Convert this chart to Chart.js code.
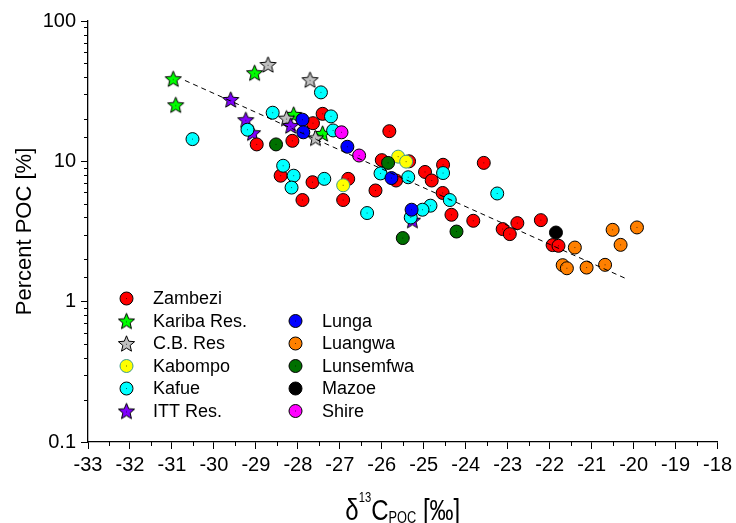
<!DOCTYPE html>
<html>
<head>
<meta charset="utf-8">
<script src="https://cdn.jsdelivr.net/npm/chart.js@4/dist/chart.umd.min.js"></script>
<style>
  body { margin: 0; background: #fff; }
  #wrap { width: 736px; height: 523px; }
</style>
</head>
<body>
<div id="wrap"><canvas id="poc" width="736" height="523"></canvas></div>
<script>
// d13C of POC (permil) against percent POC, by river / reservoir
const zambezi = [
  [-28.98, 13.2], [-28.13, 14.0], [-27.64, 18.7], [-27.41, 21.8], [-28.41, 7.9],
  [-27.65, 7.1], [-26.92, 5.3], [-27.89, 5.3], [-25.82, 16.4], [-26.00, 10.2],
  [-25.35, 10.0], [-25.66, 7.3], [-26.80, 7.5], [-26.15, 6.2], [-24.97, 8.4],
  [-24.81, 7.3], [-24.54, 9.45], [-24.55, 5.95], [-24.34, 4.16], [-23.82, 3.77],
  [-23.57, 9.75], [-23.12, 3.29], [-22.95, 3.03], [-22.77, 3.63], [-22.21, 3.81],
  [-21.93, 2.53], [-21.79, 2.50]
];
const kariba = [[-30.97, 38.8], [-30.91, 25.3], [-29.03, 42.8], [-28.10, 21.6], [-27.41, 15.8]];
const cbRes = [[-28.71, 49.0], [-27.71, 38.2], [-28.27, 20.3], [-27.58, 14.7]];
const kabompo = [[-26.92, 6.75], [-25.61, 10.8], [-25.42, 9.95]];
const kafue = [
  [-27.45, 31.0], [-29.20, 16.8], [-30.51, 14.4], [-28.60, 22.2], [-27.21, 20.9],
  [-27.16, 16.6], [-28.35, 9.3], [-28.10, 7.9], [-28.15, 6.5], [-27.37, 7.5],
  [-26.03, 8.2], [-25.37, 7.7], [-26.35, 4.28], [-24.54, 8.25], [-24.38, 5.3],
  [-24.84, 4.83], [-25.03, 4.52], [-25.31, 3.98], [-23.25, 5.9]
];
const ittRes = [[-29.60, 27.6], [-29.24, 19.8], [-29.08, 16.0], [-28.17, 18.0], [-25.27, 3.81]];
const lunga = [[-27.89, 19.8], [-27.87, 16.1], [-26.82, 12.7], [-25.77, 7.6], [-25.29, 4.52]];
const luangwa = [
  [-21.40, 2.43], [-21.69, 1.82], [-21.59, 1.73], [-21.12, 1.75],
  [-20.68, 1.83], [-20.50, 3.25], [-20.31, 2.54], [-19.92, 3.38]
];
const lunsemfwa = [[-28.52, 13.2], [-25.85, 9.75], [-25.50, 2.84], [-24.22, 3.16]];
const mazoe = [[-21.85, 3.11]];
const shire = [[-26.96, 16.1], [-26.54, 11.0]];

// dashed regression line (straight on the log axis)
const trendX = [-30.69, -20.16];
const trendY = [37.7, 1.45];

const xTickValues = [-33, -32, -31, -30, -29, -28, -27, -26, -25, -24, -23, -22, -21, -20, -19, -18];
const xTickLabels = ['-33', '-32', '-31', '-30', '-29', '-28', '-27', '-26', '-25', '-24', '-23', '-22', '-21', '-20', '-19', '-18'];
const yTickValues = [0.1, 1, 10, 100];
const yTickLabels = ['0.1', '1', '10', '100'];

const FONT = '"Liberation Sans", Arial, Helvetica, sans-serif';

function starImage(fill) {
  const s = 19;
  const c = document.createElement('canvas');
  c.width = s; c.height = s;
  const g = c.getContext('2d');
  const R = 8.5, r = 3.8, cx = s / 2, cy = s / 2 + 0.8;
  g.beginPath();
  for (let i = 0; i < 10; i++) {
    const a = -Math.PI / 2 + i * Math.PI / 5;
    const rad = i % 2 ? r : R;
    g.lineTo(cx + rad * Math.cos(a), cy + rad * Math.sin(a));
  }
  g.closePath();
  g.fillStyle = fill;
  g.fill();
  g.strokeStyle = '#000';
  g.lineWidth = 1;
  g.stroke();
  g.fillStyle = 'rgba(0,0,0,0.6)';
  g.fillRect(cx - 0.5, cy - 0.5, 1, 1);
  return c;
}

// name, data, fill, edge, star?  (listed top layer first)
const series = [
  { name: 'Shire', data: shire, fill: '#FF00FF', edge: '#000' },
  { name: 'Lunsemfwa', data: lunsemfwa, fill: '#007000', edge: '#000' },
  { name: 'Lunga', data: lunga, fill: '#0000FF', edge: '#000' },
  { name: 'Kabompo', data: kabompo, fill: '#FFFF00', edge: '#3C9A8C' },
  { name: 'Kafue', data: kafue, fill: '#00FFFF', edge: '#000' },
  { name: 'Luangwa', data: luangwa, fill: '#FF8000', edge: '#000' },
  { name: 'Zambezi', data: zambezi, fill: '#FF0000', edge: '#000' },
  { name: 'Mazoe', data: mazoe, fill: '#000000', edge: '#000' },
  { name: 'ITT Res.', data: ittRes, fill: '#8000FF', edge: '#000', star: true },
  { name: 'C.B. Res', data: cbRes, fill: '#C0C0C0', edge: '#000', star: true },
  { name: 'Kariba Res.', data: kariba, fill: '#00FF00', edge: '#000', star: true }
];
series.forEach(s => { if (s.star) s.img = starImage(s.fill); });

const legendLeft = ['Zambezi', 'Kariba Res.', 'C.B. Res', 'Kabompo', 'Kafue', 'ITT Res.'];
const legendRight = ['Lunga', 'Luangwa', 'Lunsemfwa', 'Mazoe', 'Shire'];

const datasets = [{
  label: 'fit',
  isTrend: true,
  data: trendX.map((x, i) => ({ x, y: trendY[i] })),
  showLine: true,
  borderColor: '#000',
  borderWidth: 1,
  borderDash: [5, 4],
  pointRadius: 0,
  order: 0
}];
series.forEach((s, i) => {
  datasets.push({
    label: s.name,
    data: s.data.map(p => ({ x: p[0], y: p[1] })),
    pointStyle: s.star ? s.img : 'circle',
    pointRadius: 6.5,
    backgroundColor: s.fill,
    borderColor: s.edge,
    borderWidth: 1,
    order: i + 1
  });
});

const isDecade = v => yTickValues.some(t => Math.abs(t - v) < t * 1e-6);

function drawSymbol(ctx, s, x, y) {
  if (s.star) {
    ctx.drawImage(s.img, x - s.img.width / 2, y - s.img.height / 2);
    return;
  }
  ctx.beginPath();
  ctx.arc(x, y, 6.5, 0, Math.PI * 2);
  ctx.fillStyle = s.fill;
  ctx.fill();
  ctx.lineWidth = 1;
  ctx.strokeStyle = s.edge;
  ctx.stroke();
  ctx.fillStyle = 'rgba(0,0,0,0.6)';
  ctx.fillRect(x - 0.5, y - 0.5, 1, 1);
}

function drawXTitle(ctx, cx, base) {
  const parts = [
    { t: 'δ', size: 30, dy: 0 },
    { t: '13', size: 14, dy: -18 },
    { t: 'C', size: 30, dy: 0 },
    { t: 'POC', size: 16, dy: 3 },
    { t: ' [‰]', size: 30, dy: 0 }
  ];
  const sx = 0.8;
  ctx.save();
  ctx.fillStyle = '#000';
  ctx.textAlign = 'left';
  ctx.textBaseline = 'alphabetic';
  let total = 0;
  parts.forEach(p => {
    ctx.font = p.size + 'px ' + FONT;
    p.w = ctx.measureText(p.t).width;
    total += p.w;
  });
  ctx.translate(cx - total * sx / 2, base);
  ctx.scale(sx, 1);
  let xx = 0;
  parts.forEach(p => {
    ctx.font = p.size + 'px ' + FONT;
    ctx.fillText(p.t, xx, p.dy);
    xx += p.w;
  });
  ctx.restore();
}

const extras = {
  id: 'extras',
  afterDatasetDraw(chart, args) {
    const ds = chart.data.datasets[args.index];
    if (ds.isTrend || ds.pointStyle !== 'circle') return;
    const ctx = chart.ctx;
    ctx.save();
    ctx.fillStyle = 'rgba(0,0,0,0.6)';
    args.meta.data.forEach(p => ctx.fillRect(p.x - 0.5, p.y - 0.5, 1, 1));
    ctx.restore();
  },
  afterDraw(chart) {
    const { ctx, chartArea: a, scales: { x, y } } = chart;
    ctx.save();
    // minor ticks
    ctx.strokeStyle = '#000';
    ctx.lineWidth = 1;
    ctx.beginPath();
    for (let v = xTickValues[0] + 0.5; v < xTickValues[xTickValues.length - 1]; v += 1) {
      const px = Math.round(x.getPixelForValue(v)) + 0.5;
      ctx.moveTo(px, a.bottom);
      ctx.lineTo(px, a.bottom + 4);
    }
    y.ticks.forEach(t => {
      if (isDecade(t.value)) return;
      const py = Math.round(y.getPixelForValue(t.value)) + 0.5;
      ctx.moveTo(a.left - 4, py);
      ctx.lineTo(a.left, py);
    });
    ctx.stroke();

    // legend, two columns inside the plot
    ctx.font = '18px ' + FONT;
    ctx.textAlign = 'left';
    ctx.textBaseline = 'middle';
    const rowY = r => a.top + 277.5 + r * 22.5;
    const cols = [
      { names: legendLeft, sx: a.left + 38.5, start: 0 },
      { names: legendRight, sx: a.left + 207.5, start: 1 }
    ];
    cols.forEach(col => {
      col.names.forEach((n, i) => {
        const s = series.find(q => q.name === n);
        const yy = rowY(col.start + i);
        drawSymbol(ctx, s, col.sx, yy);
        ctx.fillStyle = '#000';
        ctx.fillText(n, col.sx + 26.5, yy + 1);
      });
    });
    ctx.restore();

    drawXTitle(ctx, (a.left + a.right) / 2, 520);
  }
};

new Chart(document.getElementById('poc'), {
  type: 'scatter',
  data: { datasets },
  plugins: [extras],
  options: {
    responsive: false,
    animation: false,
    events: [],
    layout: { padding: { top: 21, right: 18, left: 0, bottom: 0 } },
    plugins: { legend: { display: false }, tooltip: { enabled: false } },
    scales: {
      x: {
        type: 'linear',
        min: -33,
        max: -18,
        afterFit: s => { s.height = 81; },
        afterBuildTicks: s => { s.ticks = xTickValues.map(v => ({ value: v })); },
        ticks: {
          autoSkip: false,
          maxRotation: 0,
          padding: 4,
          color: '#000',
          font: { family: FONT, size: 20 },
          callback: v => { const i = xTickValues.indexOf(v); return i < 0 ? '' : xTickLabels[i]; }
        },
        grid: { drawOnChartArea: false, tickLength: 7, color: '#000', tickWidth: 1 },
        border: { color: '#000', width: 1.3 }
      },
      y: {
        type: 'logarithmic',
        min: 0.1,
        max: 100,
        afterFit: s => { s.width = 88; },
        ticks: {
          autoSkip: false,
          padding: 5,
          color: '#000',
          font: { family: FONT, size: 20 },
          callback: v => { const i = yTickValues.findIndex(t => Math.abs(t - v) < t * 1e-6); return i < 0 ? '' : yTickLabels[i]; }
        },
        grid: {
          drawOnChartArea: false,
          tickLength: 7,
          tickWidth: 1,
          tickColor: c => (c.tick && isDecade(c.tick.value)) ? '#000' : 'rgba(0,0,0,0)'
        },
        border: { color: '#000', width: 1.3 },
        title: {
          display: true,
          text: 'Percent POC [%]',
          color: '#000',
          font: { family: FONT, size: 22 },
          padding: { top: 12, bottom: 0 }
        }
      }
    }
  }
});
</script>
</body>
</html>
